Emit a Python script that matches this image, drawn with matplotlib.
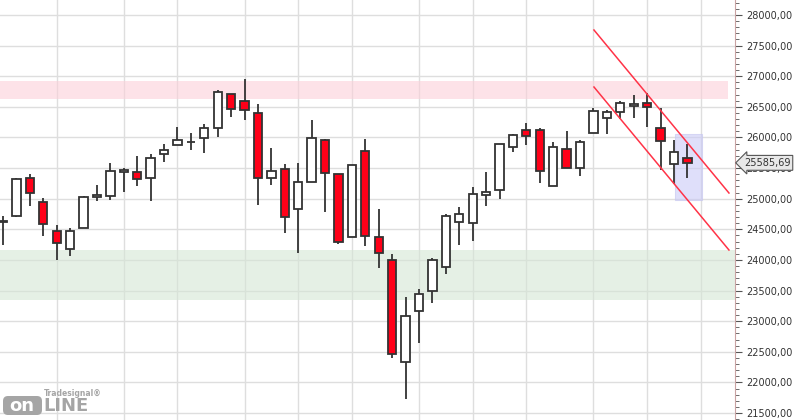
import matplotlib.pyplot as plt
import numpy as np
from matplotlib.patches import FancyBboxPatch
from matplotlib.ticker import MultipleLocator, FuncFormatter

# weekly candles
opens = [24620, 24722, 25333, 24941, 24467, 24173, 24516, 25023, 25039, 25431,
         25431, 25333, 25725, 25872, 25926, 25986, 26150, 26705, 26591, 26395,
         25333, 25490, 24827, 25268, 25954, 25398, 24369, 25774, 24369, 23994,
         22328, 23161, 23487, 23879, 24614, 24598, 25055, 25137, 25839, 26117,
         26117, 25202, 25807, 25496, 26068, 26313, 26411, 26509, 26558, 26150,
         25562, 25660]
closes = [24640, 25317, 25088, 24582, 24271, 24467, 25023, 25055, 25447, 25464,
          25317, 25660, 25790, 25954, 25930, 26150, 26738, 26460, 26444, 25333,
          25452, 24696, 25268, 25986, 25415, 24288, 25545, 24386, 24108, 22459,
          23079, 23438, 23994, 24712, 24745, 25072, 25104, 25888, 26035, 26019,
          25447, 25839, 25496, 25921, 26427, 26411, 26558, 26542, 26493, 25937,
          25758, 25585.69]
highs = [24717, 25333, 25403, 25006, 24565, 24516, 25039, 25224, 25583, 25496,
         25697, 25730, 25893, 26166, 26073, 26220, 26775, 26705, 26955, 26547,
         25828, 25562, 25578, 26285, 25975, 25398, 25545, 25975, 24832, 24097,
         23394, 23525, 24026, 24745, 24859, 25186, 25436, 25888, 26052, 26231,
         26150, 25921, 26101, 25954, 26476, 26444, 26591, 26689, 26721, 26476,
         25954, 25888]
lows = [24244, 24706, 24886, 24396, 23999, 24069, 24516, 24967, 24984, 25114,
        25212, 24967, 25604, 25872, 25795, 25751, 26012, 26339, 26285, 24902,
        25229, 24445, 24118, 25268, 24788, 24260, 24369, 24232, 23873, 22403,
        21724, 22648, 23301, 23765, 24249, 24314, 24886, 25000, 25758, 25872,
        25251, 25202, 25496, 25366, 26068, 26052, 26297, 26313, 26179, 25464,
        25235, 25333]

month_starts = [4, 9, 13, 18, 22, 26, 31, 35, 39, 44, 48, 52]
resistance = (26630, 26920)
support = (23350, 24160)
focus_box = (50.07, 52.09, 24979, 26057)
channel_upper = ([44.04, 54.1], [27755, 25093])
channel_lower = ([44.04, 54.1], [26824, 24162])
last_price = 25585.69

fig = plt.figure(figsize=(8, 4.2), dpi=100)
ax = fig.add_axes([0, 0, 735 / 800, 1])
ax.set_xlim(-0.224, 54.55)
ax.set_ylim(21386, 28245)

# grid
ax.set_axisbelow(True)
ax.yaxis.set_major_locator(MultipleLocator(500))
ax.yaxis.set_minor_locator(MultipleLocator(100))
ax.grid(axis='y', which='major', color='#dedede', lw=1)
for m in month_starts:
    ax.axvline(m, color='#dedede', lw=1, zorder=0.5)

# zones
ax.axhspan(*resistance, xmin=0, xmax=0.99, color='#fcd0d9', alpha=0.6, lw=0, zorder=1)
ax.axhspan(*support, xmin=0, xmax=1, color='#d5e6d5', alpha=0.6, lw=0, zorder=1)
x0, x1, y0, y1 = focus_box
ax.fill_between([x0, x1], y0, y1, color='#cbcbf7', alpha=0.6, lw=0.8, edgecolor='#c4c4f0', zorder=1)

# candles
idx = np.arange(len(opens))
o = np.array(opens)
c = np.array(closes)
up = c >= o
ax.vlines(idx, lows, highs, color='#333333', lw=1.3, zorder=2)
bottom = np.minimum(o, c)
height = np.maximum(np.abs(c - o), 8)
ax.bar(idx, height, bottom=bottom, width=0.62,
       color=np.where(up, 'white', '#ff0018'), edgecolor='#333333', lw=1.3, zorder=3)

# channel
ax.plot(*channel_upper, color='#ff3347', lw=1.1, zorder=4)
ax.plot(*channel_lower, color='#ff3347', lw=1.1, zorder=4)

# right axis
for s in ['left', 'top', 'bottom']:
    ax.spines[s].set_visible(False)
ax.spines['right'].set_color('#c9a3a3')
ax.yaxis.tick_right()
ax.set_xticks([])
ax.yaxis.set_major_formatter(FuncFormatter(lambda v, p: f"{v:.2f}".replace('.', ',')))
ax.tick_params(axis='y', which='major', length=5, color='#555555', labelsize=7,
               labelcolor='#333333', pad=3)
ax.tick_params(axis='y', which='minor', length=3, color='#555555')

ax.text(1.012, last_price, f"{last_price:.2f}".replace('.', ','),
        transform=ax.get_yaxis_transform(), fontsize=7, color='#333333',
        va='center', ha='left', zorder=20,
        bbox=dict(boxstyle='larrow,pad=0.25', fc='#e8e8e8', ec='#555555', lw=0.8))

# logo
logo = FancyBboxPatch((3, 5), 39, 19, boxstyle='round,pad=0,rounding_size=5',
                      transform=None, fc='#a5a5a5', ec='none', zorder=10)
fig.patches.append(logo)
fig.text(22 / 800, 14 / 420, 'on', color='white', fontsize=13, fontweight='bold',
         ha='center', va='center', zorder=11)
fig.text(43 / 800, 14 / 420, 'LINE', color='#a5a5a5', fontsize=13, fontweight='bold',
         ha='left', va='center', zorder=11)
fig.text(44 / 800, 26 / 420, 'Tradesignal®', color='#a5a5a5', fontsize=5.5,
         fontweight='bold', ha='left', va='center', zorder=11)

fig.savefig('out.png', dpi=100)
